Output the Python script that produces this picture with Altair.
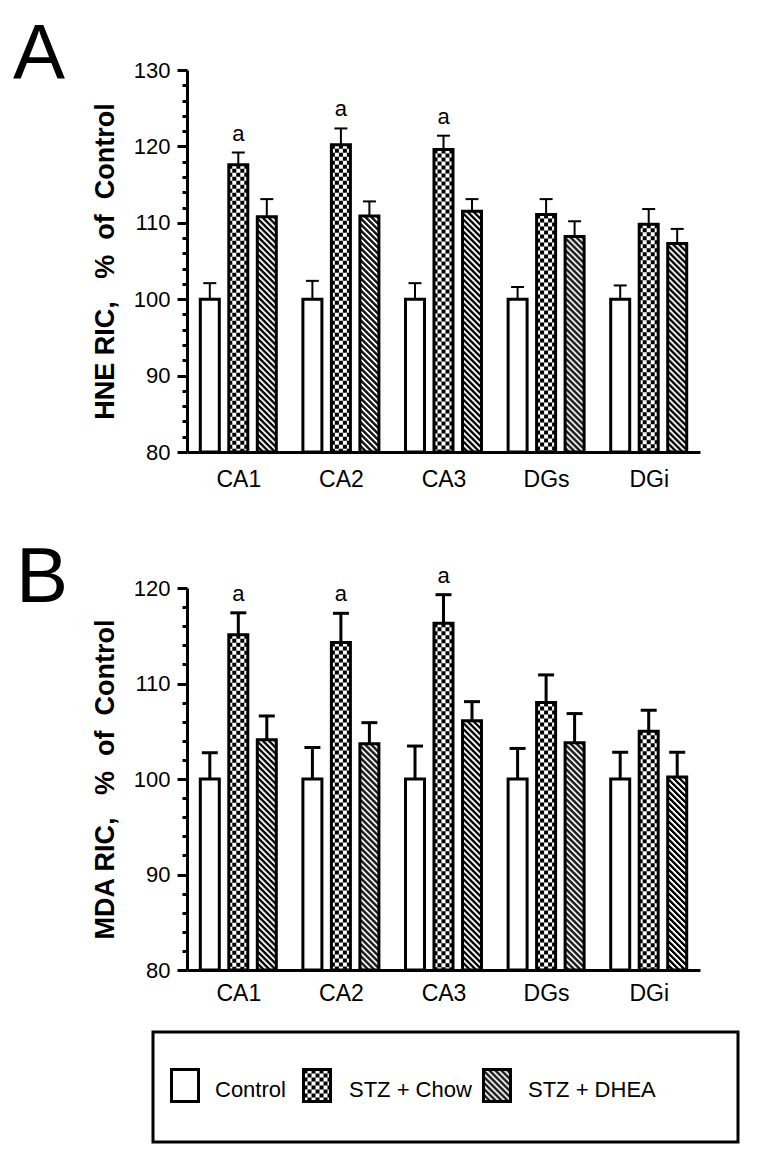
import altair as alt
import pandas as pd

regions = ["CA1", "CA2", "CA3", "DGs", "DGi"]
groups = ["Control", "STZ + Chow", "STZ + DHEA"]

hne_control = [100, 100, 100, 100, 100]
hne_control_err = [2.1, 2.4, 2.1, 1.6, 1.8]
hne_chow = [117.6, 120.2, 119.6, 111.1, 109.8]
hne_chow_err = [1.6, 2.15, 1.8, 2.0, 2.0]
hne_dhea = [110.8, 110.9, 111.5, 108.2, 107.3]
hne_dhea_err = [2.3, 1.9, 1.6, 2.0, 1.9]
hne_sig = ["a", "a", "a", "", ""]

mda_control = [100, 100, 100, 100, 100]
mda_control_err = [2.75, 3.3, 3.45, 3.2, 2.8]
mda_chow = [115.1, 114.3, 116.3, 108.0, 105.0]
mda_chow_err = [2.3, 3.05, 3.0, 2.9, 2.2]
mda_dhea = [104.1, 103.7, 106.1, 103.8, 100.2]
mda_dhea_err = [2.5, 2.2, 2.0, 3.05, 2.6]
mda_sig = ["a", "a", "a", "", ""]

NB = "\u00a0"
hne_title = f"HNE RIC,{NB * 3}%{NB * 2}of{NB * 2}Control"
mda_title = f"MDA RIC,{NB * 3}%{NB * 2}of{NB * 2}Control"

FONT = "Liberation Sans"
W = 513
H = 382
U = len(regions) / W  # x data units per pixel


def bars_frame(series, errs, sig):
    rows = []
    for j, (vals, es) in enumerate(zip(series, errs)):
        for i, r in enumerate(regions):
            c = i + 0.5 + (j - 1) * 28.5 * U
            rows.append(dict(region=r, group=groups[j], g=j, value=vals[i], err=es[i],
                             top=vals[i] + es[i], x=c - 9.5 * U, x2=c + 9.5 * U, c=c,
                             sig=sig[i] if j == 1 else ""))
    return pd.DataFrame(rows)


def pattern_frame(bars, base):
    rows = []
    for _, b in bars.iterrows():
        if b.g == 1:
            for k in range(5):
                rows.append(dict(kind="chk", cls=k % 2, px=b.c + (-8 + 4 * k) * U, y=b.value, y2=base))
        elif b.g == 2:
            for k in range(20):
                rows.append(dict(kind="hat", cls=k % 6, px=b.c + (-9.5 + k) * U, y=b.value, y2=base))
    return pd.DataFrame(rows)


def pattern_layers(pat, X, Y, Y2):
    layers = []
    for p in range(2):
        layers.append(
            alt.Chart(pat).transform_filter(f"datum.kind == 'chk' && datum.cls == {p}")
            .mark_rule(color="black", strokeWidth=4, strokeDash=[4, 4], strokeDashOffset=4 * p, strokeCap="butt")
            .encode(x=X("px"), y=Y("y"), y2=Y2("y2"))
        )
    for d in range(6):
        layers.append(
            alt.Chart(pat).transform_filter(f"datum.kind == 'hat' && datum.cls == {d}")
            .mark_rule(color="black", strokeWidth=1.35, strokeDash=[3, 3], strokeDashOffset=(6 - d) % 6, strokeCap="butt")
            .encode(x=X("px"), y=Y("y"), y2=Y2("y2"))
        )
    return layers


def panel(series, errs, sig, lo, hi, title, letter, letter_x, letter_y, xlabpad, errw, capw):
    bars = bars_frame(series, errs, sig)
    pat = pattern_frame(bars, lo)
    xscale = alt.Scale(domain=[0, len(regions)], nice=False, zero=False)
    yscale = alt.Scale(domain=[lo, hi], nice=False, zero=False)
    names = ",".join(f"'{r}'" for r in regions)
    xaxis = alt.Axis(values=[i + 0.5 for i in range(len(regions))],
                     labelExpr=f"[{names}][floor(datum.value)]", ticks=False, grid=False,
                     domainWidth=3, domainColor="black", labelFont=FONT, labelFontSize=23,
                     labelColor="black", labelPadding=xlabpad, title=None, labelFlush=False)
    yaxis = alt.Axis(values=list(range(lo, hi + 1, 2)),
                     labelExpr="datum.value % 10 === 0 ? datum.label : ''",
                     tickSize={"condition": {"test": "datum.value % 10 === 0", "value": 10}, "value": 5},
                     tickWidth=3, tickColor="black", domainWidth=3, domainColor="black", grid=False,
                     labelFont=FONT, labelFontSize=22, labelColor="black", labelPadding=7,
                     title=title, titleFont=FONT, titleFontSize=27, titleFontWeight="bold",
                     titleColor="black", titlePadding=14)

    def X(f):
        return alt.X(f"{f}:Q", scale=xscale, axis=xaxis)

    def X2(f):
        return alt.X2(f"{f}:Q")

    def Y(f):
        return alt.Y(f"{f}:Q", scale=yscale, axis=yaxis)

    def Y2(f):
        return alt.Y2(f"{f}:Q")

    base = alt.Chart(bars)
    fill = base.mark_rect(fill="white", stroke="white", strokeWidth=0).encode(
        x=X("x"), x2=X2("x2"), y=Y("value"), y2=alt.Y2(datum=lo))
    outline = base.mark_rect(fill="transparent", stroke="black", strokeWidth=3).encode(
        x=X("x"), x2=X2("x2"), y=Y("value"), y2=alt.Y2(datum=lo))
    err = base.mark_rule(color="black", strokeWidth=errw).encode(
        x=X("c"), y=Y("value"), y2=Y2("top"))
    cap = base.transform_calculate(
        cl=f"datum.c - {capw / 2 * U}", cr=f"datum.c + {capw / 2 * U}"
    ).mark_rule(color="black", strokeWidth=errw).encode(
        x=X("cl"), x2=X2("cr"), y=Y("top"))
    sigt = base.transform_filter("datum.sig != ''").mark_text(
        font=FONT, fontSize=22, baseline="alphabetic", dy=-12, color="black").encode(
        x=X("c"), y=Y("top"), text="sig:N")
    let = alt.Chart(pd.DataFrame({"t": [letter]})).mark_text(
        font=FONT, fontSize=78, align="left", baseline="alphabetic", color="black").encode(
        text="t:N", x=alt.value(letter_x), y=alt.value(letter_y))
    layers = [fill] + pattern_layers(pat, X, Y, Y2) + [outline, err, cap, sigt, let]
    return alt.layer(*layers).properties(width=W, height=H)


pa = panel([hne_control, hne_chow, hne_dhea], [hne_control_err, hne_chow_err, hne_dhea_err],
           hne_sig, 80, 130, hne_title, "A", -174, 9, 16, 2, 13)
pb = panel([mda_control, mda_chow, mda_dhea], [mda_control_err, mda_chow_err, mda_dhea_err],
           mda_sig, 80, 120, mda_title, "B", -171, 14, 12, 3, 16)

# legend panel (pixel-identity scales)
LH = 36
lx = alt.Scale(domain=[0, W], range=[0, W], nice=False, zero=False)
ly = alt.Scale(domain=[0, LH], nice=False, zero=False, reverse=True)
swatch_left = [-15.5, 116.5, 296.5]
text_left = [28, 162, 341]
SW = 27
sw_top, sw_bot, txt_base = -36.5, -4.5, -9
box = pd.DataFrame({"x": [-34], "x2": [551], "y": [-74], "y2": [36]})
sw = pd.DataFrame({"group": groups, "g": [0, 1, 2], "x": swatch_left,
                   "x2": [v + SW for v in swatch_left], "tx": text_left,
                   "y": [sw_top] * 3, "y2": [sw_bot] * 3})
lrows = []
for _, s in sw.iterrows():
    if s.g == 1:
        for k in range(7):
            lrows.append(dict(kind="chk", cls=k % 2, px=s.x + 2 + 4 * k, y=sw_top, y2=sw_bot))
    elif s.g == 2:
        for k in range(SW):
            lrows.append(dict(kind="hat", cls=k % 6, px=s.x + 0.5 + k, y=sw_top, y2=sw_bot))
lpat = pd.DataFrame(lrows)


def LX(f):
    return alt.X(f"{f}:Q", scale=lx, axis=None)


def LY(f):
    return alt.Y(f"{f}:Q", scale=ly, axis=None)


def LY2(f):
    return alt.Y2(f"{f}:Q")


lbox = alt.Chart(box).mark_rect(fill="white", stroke="black", strokeWidth=3).encode(
    x=LX("x"), x2=alt.X2("x2:Q"), y=LY("y"), y2=LY2("y2"))
lfill = alt.Chart(sw).mark_rect(fill="white").encode(
    x=LX("x"), x2=alt.X2("x2:Q"), y=LY("y"), y2=LY2("y2"))
lout = alt.Chart(sw).mark_rect(fill="transparent", stroke="black", strokeWidth=3).encode(
    x=LX("x"), x2=alt.X2("x2:Q"), y=LY("y"), y2=LY2("y2"))
ltext = alt.Chart(sw).transform_calculate(ty=f"{txt_base}").mark_text(
    font=FONT, fontSize=22, align="left", baseline="alphabetic", color="black").encode(
    x=LX("tx"), y=LY("ty"), text="group:N")
leg = alt.layer(lbox, lfill, *pattern_layers(lpat, LX, LY, LY2), lout, ltext).properties(width=W, height=LH)

chart = alt.vconcat(pa, pb, leg, spacing=136, bounds="flush").properties(
    padding={"left": 5, "top": 9, "right": 5, "bottom": 5}
).configure(font=FONT).configure_view(stroke="transparent", strokeWidth=0)

chart.save("out.html", embed_options={"renderer": "svg", "actions": False})
